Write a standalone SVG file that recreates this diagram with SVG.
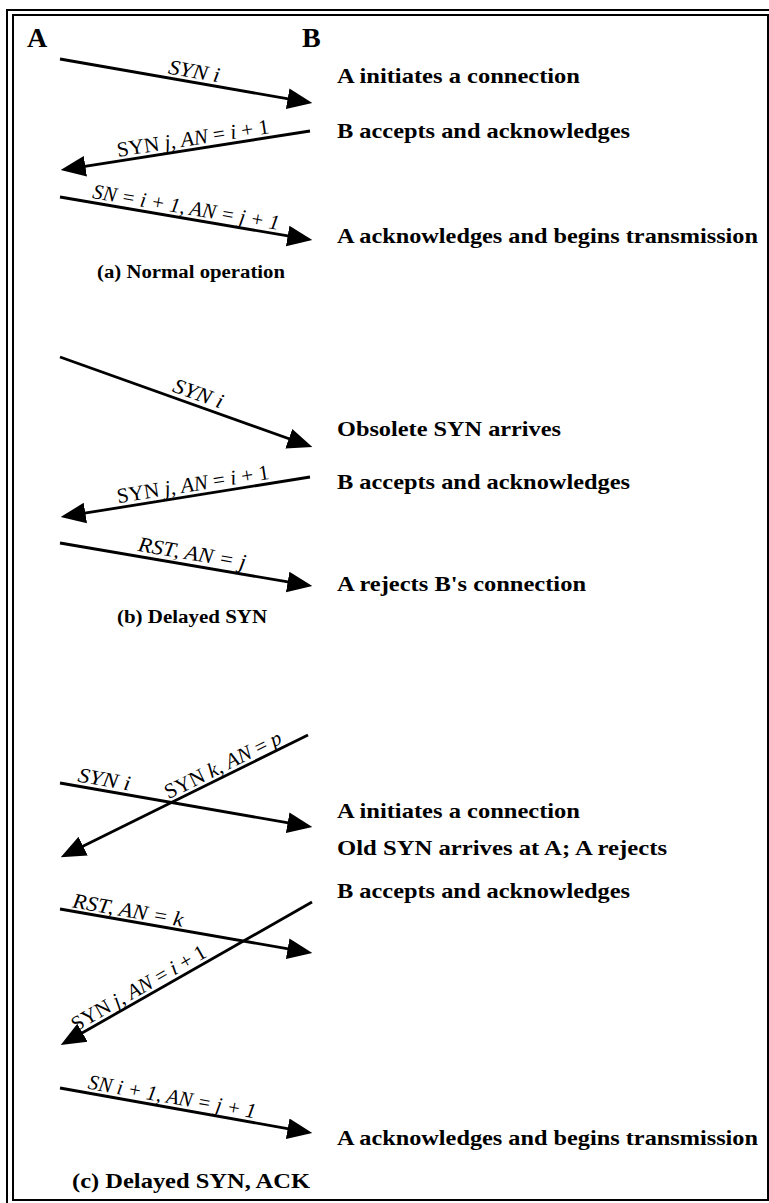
<svg xmlns="http://www.w3.org/2000/svg" width="769" height="1203" viewBox="0 0 769 1203">
<style>
.frame{fill:none;stroke:#000;stroke-width:2}
.msg{fill:none;stroke:#000;stroke-width:2.8;marker-end:url(#ah)}
.lbl{font-family:"Liberation Serif","Times New Roman",serif;font-size:21px;font-style:italic;fill:#000;text-anchor:middle}
.up{font-style:normal}
.note{font-family:"Liberation Serif","Times New Roman",serif;font-size:22px;font-weight:bold;fill:#000}
.cap{font-family:"Liberation Serif","Times New Roman",serif;font-weight:bold;fill:#000}
.end{font-family:"Liberation Serif","Times New Roman",serif;font-size:28px;font-weight:bold;fill:#000}
</style>
<defs>
<marker id="ah" markerUnits="userSpaceOnUse" markerWidth="25" markerHeight="22" viewBox="0 0 24 20" refX="16" refY="10" orient="auto">
<path d="M0,0 L24,10 L0,20 z" fill="#000"/>
</marker>
</defs>
<rect width="769" height="1203" fill="#fff"/>
<g id="frame">
<rect class="frame" x="7" y="10" width="800" height="1250"/>
<rect class="frame" x="13" y="15" width="755" height="1185"/>
</g>
<g id="endpoints">
<text class="end" x="27" y="47">A</text>
<text class="end" x="302" y="47">B</text>
</g>
<g id="connectors">
<path id="m1" class="msg" d="M60,59 L304.1,101.6"/>
<path id="m2" class="msg" d="M310,131 L68.9,168.8"/>
<path id="m3" class="msg" d="M60,197 L304.1,238.7"/>
<path id="m4" class="msg" d="M60,357 L304.5,444.3"/>
<path id="m5" class="msg" d="M310,477 L68.9,515.7"/>
<path id="m6" class="msg" d="M60,543 L304.1,584.7"/>
<path id="m7" class="msg" d="M60,783 L304.1,825.6"/>
<path id="m8" class="msg" d="M308,735 L68.2,853.5"/>
<path id="m9" class="msg" d="M60,909 L304.1,951.6"/>
<path id="m10" class="msg" d="M312,902 L68,1041"/>
<path id="m11" class="msg" d="M60,1088 L304.1,1131.6"/>
</g>
<g id="msg-labels">
<text class="lbl" transform="translate(193,78) rotate(9.9)" textLength="52" lengthAdjust="spacingAndGlyphs">SYN i</text>
<text class="lbl" transform="translate(194,145) rotate(-8.9)" textLength="154" lengthAdjust="spacingAndGlyphs"><tspan class="up">SYN </tspan>j<tspan class="up">, </tspan>AN<tspan class="up"> = </tspan>i<tspan class="up"> + 1</tspan></text>
<text class="lbl" transform="translate(185,214) rotate(9.7)" textLength="189" lengthAdjust="spacingAndGlyphs">SN = i + 1, AN = j + 1</text>
<text class="lbl" transform="translate(196,400) rotate(19.6)" textLength="52" lengthAdjust="spacingAndGlyphs">SYN i</text>
<text class="lbl" transform="translate(194,491) rotate(-9.1)" textLength="154" lengthAdjust="spacingAndGlyphs"><tspan class="up">SYN </tspan>j<tspan class="up">, </tspan>AN<tspan class="up"> = </tspan>i<tspan class="up"> + 1</tspan></text>
<text class="lbl" transform="translate(191,560) rotate(9.7)" textLength="109" lengthAdjust="spacingAndGlyphs">RST, AN = j</text>
<text class="lbl" transform="translate(103,786) rotate(9.9)" textLength="53" lengthAdjust="spacingAndGlyphs">SYN i</text>
<text class="lbl" transform="translate(226,771) rotate(-26.3)" textLength="128" lengthAdjust="spacingAndGlyphs"><tspan class="up">SYN </tspan>k<tspan class="up">, </tspan>AN<tspan class="up"> = </tspan>p</text>
<text class="lbl" transform="translate(127,917) rotate(9.9)" textLength="112" lengthAdjust="spacingAndGlyphs">RST, AN = k</text>
<text class="lbl" transform="translate(142,994) rotate(-29.7)" textLength="152" lengthAdjust="spacingAndGlyphs"><tspan class="up">SYN </tspan>j<tspan class="up">, </tspan>AN<tspan class="up"> = </tspan>i<tspan class="up"> + 1</tspan></text>
<text class="lbl" transform="translate(171,1103.5) rotate(10.1)" textLength="170" lengthAdjust="spacingAndGlyphs">SN i + 1, AN = j + 1</text>
</g>
<g id="notes-a">
<text class="note" x="337" y="83" textLength="243" lengthAdjust="spacingAndGlyphs">A initiates a connection</text>
<text class="note" x="337" y="138" textLength="293" lengthAdjust="spacingAndGlyphs">B accepts and acknowledges</text>
<text class="note" x="337" y="243" textLength="421" lengthAdjust="spacingAndGlyphs">A acknowledges and begins transmission</text>
<text class="cap" x="97" y="278" font-size="18" textLength="188" lengthAdjust="spacingAndGlyphs">(a) Normal operation</text>
</g>
<g id="notes-b">
<text class="note" x="337" y="436" textLength="224" lengthAdjust="spacingAndGlyphs">Obsolete SYN arrives</text>
<text class="note" x="337" y="489" textLength="293" lengthAdjust="spacingAndGlyphs">B accepts and acknowledges</text>
<text class="note" x="337" y="591" textLength="249" lengthAdjust="spacingAndGlyphs">A rejects B's connection</text>
<text class="cap" x="117" y="623" font-size="18" textLength="150" lengthAdjust="spacingAndGlyphs">(b) Delayed SYN</text>
</g>
<g id="notes-c">
<text class="note" x="337" y="818" textLength="243" lengthAdjust="spacingAndGlyphs">A initiates a connection</text>
<text class="note" x="337" y="855" textLength="330" lengthAdjust="spacingAndGlyphs">Old SYN arrives at A; A rejects</text>
<text class="note" x="337" y="898" textLength="293" lengthAdjust="spacingAndGlyphs">B accepts and acknowledges</text>
<text class="note" x="337" y="1145" textLength="421" lengthAdjust="spacingAndGlyphs">A acknowledges and begins transmission</text>
<text class="cap" x="72" y="1188" font-size="22" textLength="238" lengthAdjust="spacingAndGlyphs">(c) Delayed SYN, ACK</text>
</g>
</svg>
